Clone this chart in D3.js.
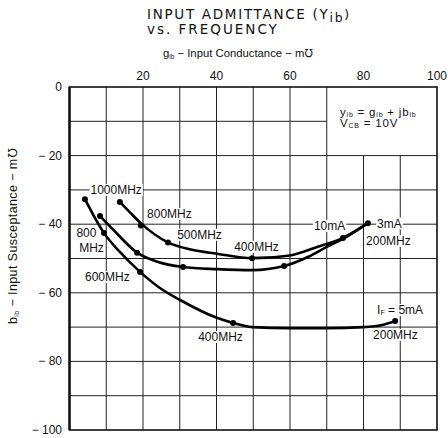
<!DOCTYPE html>
<html>
<head>
<meta charset="utf-8">
<script src="https://cdn.jsdelivr.net/npm/d3@7"></script>
<style>
  body { margin: 0; background: #fff; }
  svg { display: block; }
  text { font-family: "Liberation Sans", Arial, sans-serif; fill: #111; }
</style>
</head>
<body>
<svg id="chart" width="448" height="438"></svg>
<script>
// axis ticks
const xTicks = [20, 40, 60, 80, 100];
const yTicks = [0, -20, -40, -60, -80, -100];
const gridX = [10, 20, 30, 40, 50, 60, 70, 80, 90];
const gridY = [-10, -20, -30, -40, -50, -60, -70, -80, -90];

// curves: [g_ib, b_ib]
const curveUpper = [[13.7, -33.5], [16.5, -36.6], [19.6, -39.9], [26.8, -45.3], [33, -47.4], [40.1, -48.6],
                    [49.7, -49.9], [60, -49.1], [67, -46.8], [74.4, -44], [81.2, -39.7]];
const curveMiddle = [[8.3, -37.6], [11.9, -41.6], [18.4, -48.3], [23.7, -50.9], [30.9, -52.5], [40.1, -53.1],
                     [49.7, -53.4], [58.4, -52.2], [65, -49.5], [70, -46.6], [75.5, -43.6], [81.2, -39.7]];
const curveLower = [[4.2, -32.7], [9.4, -42.6], [13.7, -48.1], [19.2, -53.9], [24.6, -58.6], [30.1, -62.1],
                    [40.1, -67.3], [44.5, -68.8], [49.7, -70], [60, -70.3], [70, -70.3], [80, -70], [85, -69.4], [88.6, -68.2]];

// measured points on each curve
const dotsUpper = [[13.7, -33.5], [19.4, -40.4], [26.8, -45.3], [49.7, -49.9], [74.4, -44], [81.2, -39.7]];
const dotsMiddle = [[8.3, -37.6], [18.4, -48.3], [30.9, -52.5], [58.4, -52.2]];
const dotsLower = [[4.2, -32.7], [9.4, -42.6], [19.2, -53.9], [44.5, -68.8], [88.6, -68.2]];

// annotations: text, g, b, anchor
const notes = [
  ["1000MHz", 12.7, -30, "middle"],
  ["800MHz", 21.1, -37, "start"],
  ["800", 4.6, -42.6, "middle"],
  ["MHz", 6, -47, "middle"],
  ["600MHz", 10.3, -55.4, "middle"],
  ["500MHz", 29.3, -43.1, "start"],
  ["400MHz", 44.8, -46.6, "start"],
  ["10mA", 66.5, -40.5, "start"],
  ["3mA", 83.7, -39.8, "start"],
  ["200MHz", 80.7, -44.9, "start"],
  ["200MHz", 82.6, -72.3, "start"],
  ["400MHz", 35, -72.9, "start"]
];

const svg = d3.select("#chart");
const x = d3.scaleLinear().domain([0, 100]).range([69.5, 437]);
const y = d3.scaleLinear().domain([0, -100]).range([87, 430]);

// grid, leaving the box at top right empty
const grid = svg.append("g").attr("stroke", "#222").attr("stroke-width", 1);
gridX.forEach(function(g) {
    grid.append("line")
        .attr("x1", x(g)).attr("x2", x(g))
        .attr("y1", g > 70 ? y(-20) : y(0)).attr("y2", y(-100));
});
gridY.forEach(function(b) {
    grid.append("line")
        .attr("x1", x(0)).attr("x2", b > -20 ? x(70) : x(100))
        .attr("y1", y(b)).attr("y2", y(b));
});

// frame
svg.append("rect")
    .attr("x", x(0)).attr("y", y(0))
    .attr("width", x(100) - x(0)).attr("height", y(-100) - y(0))
    .attr("fill", "none").attr("stroke", "#111").attr("stroke-width", 1.6);
svg.append("line")
    .attr("x1", x(0)).attr("x2", x(0)).attr("y1", y(0)).attr("y2", y(-100))
    .attr("stroke", "#111").attr("stroke-width", 2.4);

// tick labels
svg.append("g").selectAll("text")
    .data(xTicks).enter().append("text")
    .attr("x", function(d) { return x(d) })
    .attr("y", 80)
    .attr("text-anchor", "middle")
    .style("font-size", "12px")
    .text(function(d) { return d });

svg.append("g").selectAll("text")
    .data(yTicks).enter().append("text")
    .attr("x", 62)
    .attr("y", function(d) { return y(d) + 4 })
    .attr("text-anchor", "end")
    .style("font-size", "12px")
    .text(function(d) { return d === 0 ? "0" : "\u2212 " + Math.abs(d) });

// titles
svg.append("text").attr("x", 147).attr("y", 19)
    .style("font-family", "DejaVu Sans").style("font-size", "13.5px").style("letter-spacing", "1.7px")
    .text("INPUT ADMITTANCE (Y")
    .append("tspan").attr("dy", 3).style("font-size", "12.5px").text("ib")
    .append("tspan").attr("dy", -3).text(")");
svg.append("text").attr("x", 147).attr("y", 34)
    .style("font-family", "DejaVu Sans").style("font-size", "13.5px").style("letter-spacing", "2px")
    .text("vs. FREQUENCY");

var xt = svg.append("text").attr("x", 163).attr("y", 57).style("font-size", "11.3px");
xt.append("tspan").text("g");
xt.append("tspan").attr("dy", 2).style("font-size", "6.5px").text("ib");
xt.append("tspan").attr("dy", -2).text(" \u2212 Input  Conductance \u2212 m\u2127");

var yt = svg.append("text")
    .attr("transform", "translate(17,236) rotate(-90)")
    .attr("text-anchor", "middle")
    .style("font-size", "12.5px")
    .style("letter-spacing", "0.4px");
yt.append("tspan").text("b");
yt.append("tspan").attr("dy", 2).style("font-size", "7px").text("ib");
yt.append("tspan").attr("dy", -2).text(" \u2212 Input  Susceptance \u2212 m\u2127");

// curves
const line = d3.line()
    .x(function(d) { return x(d[0]) })
    .y(function(d) { return y(d[1]) })
    .curve(d3.curveMonotoneX);

[curveUpper, curveMiddle, curveLower].forEach(function(c) {
    svg.append("path").attr("d", line(c))
        .attr("fill", "none").attr("stroke", "#000").attr("stroke-width", 2.6);
});

svg.append("g").selectAll("circle")
    .data(dotsUpper.concat(dotsMiddle, dotsLower)).enter().append("circle")
    .attr("cx", function(d) { return x(d[0]) })
    .attr("cy", function(d) { return y(d[1]) })
    .attr("r", 3)
    .attr("fill", "#000");

// labels with white backing so grid lines break around them
function label(parts, g, b, anchor, size, spacing) {
    var grp = svg.append("g");
    var t = grp.append("text")
        .attr("x", x(g)).attr("y", y(b))
        .attr("dominant-baseline", "central")
        .attr("text-anchor", anchor)
        .style("font-size", size + "px")
        .style("letter-spacing", (spacing || 0) + "px");
    parts.forEach(function(p) {
        var s = t.append("tspan").text(p[0]);
        if (p[1]) s.attr("dy", p[1]);
        if (p[2]) s.style("font-size", p[2]);
    });
    var bb = t.node().getBBox();
    grp.insert("rect", "text")
        .attr("x", bb.x - 1).attr("y", bb.y + 1)
        .attr("width", bb.width + 2).attr("height", bb.height - 2)
        .attr("fill", "#fff");
}

notes.forEach(function(n) { label([[n[0]]], n[1], n[2], n[3], 12); });

label([["I", 0], ["F", 2, "7px"], [" = 5mA", -2]], 83.7, -65, "start", 12);
label([["y", 0], ["ib", 2, "7px"], [" = g", -2], ["ib", 2, "7px"], [" + jb", -2], ["ib", 2, "7px"]], 73.6, -7.3, "start", 11.5, 0.8);
label([["V", 0], ["CB", 2, "7px"], [" = 10V", -2]], 73.6, -10.6, "start", 11.5, 0.8);
</script>
</body>
</html>
